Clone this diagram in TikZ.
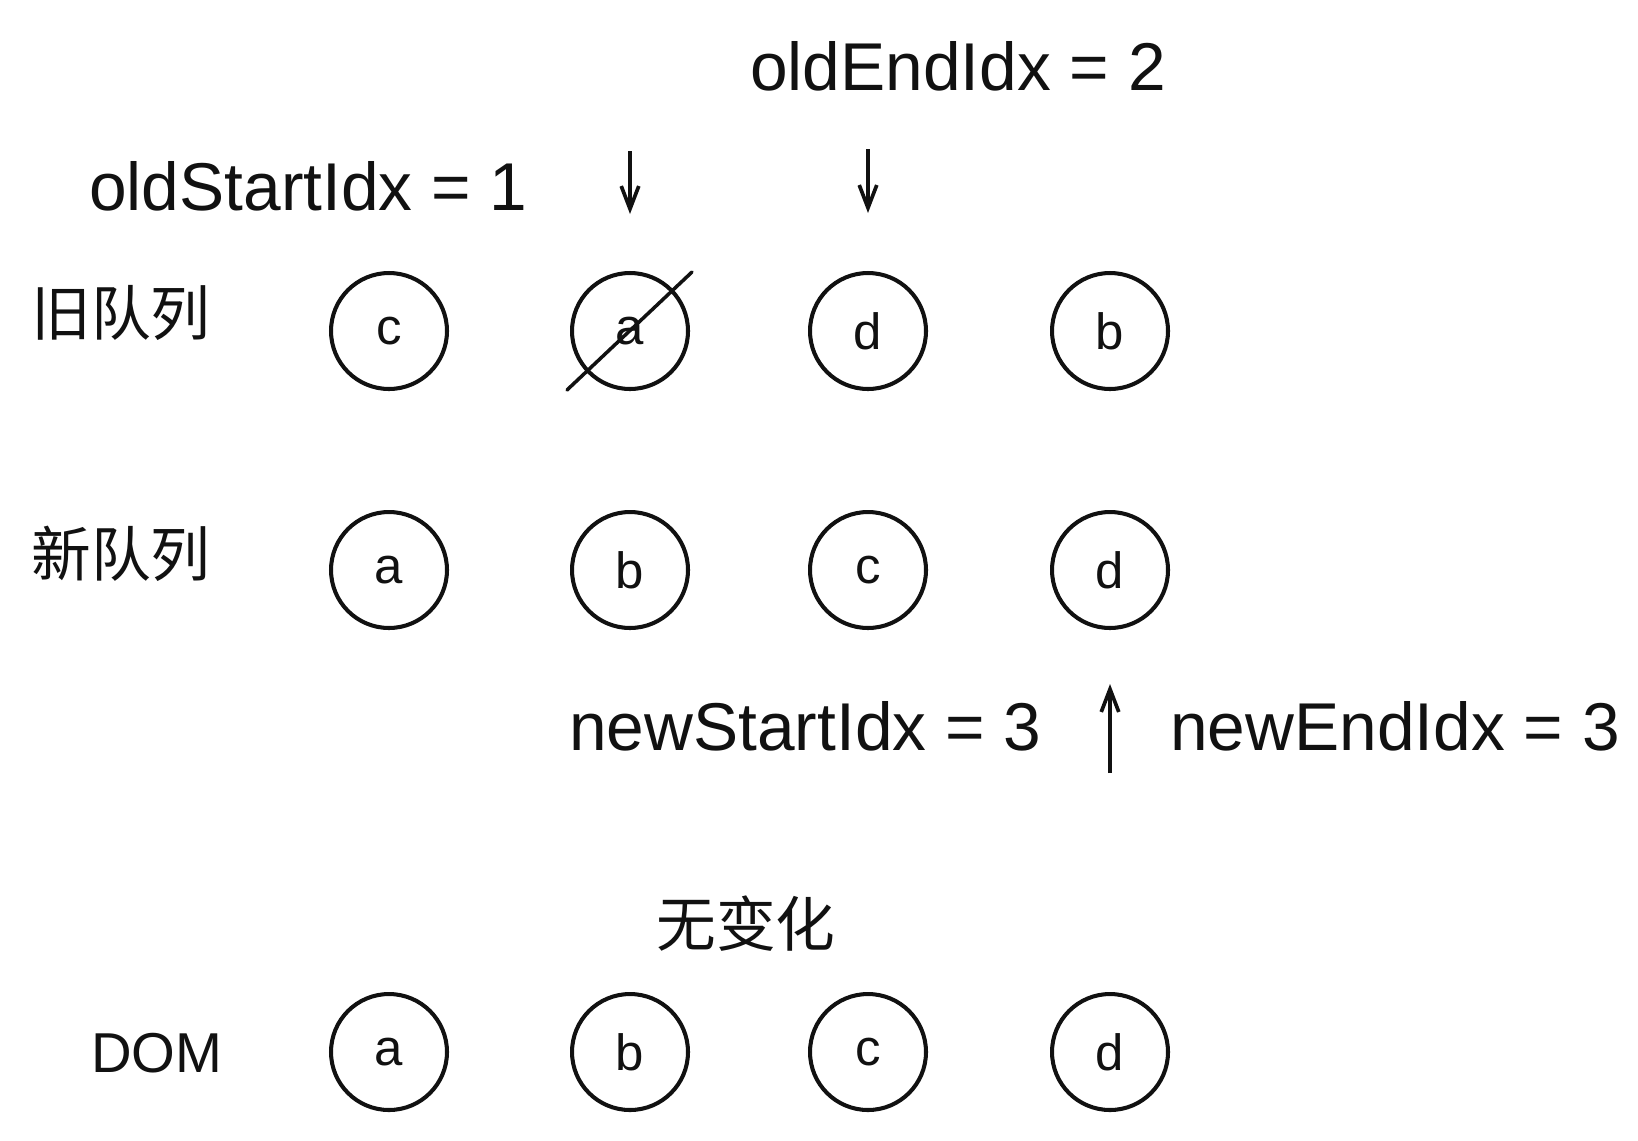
\documentclass[tikz,border=0pt]{standalone}
\usepackage{fontspec}
\setmainfont{Liberation Sans}
\newfontfamily\cjk{Noto Sans CJK SC}
\usetikzlibrary{positioning,arrows.meta,calc}
\definecolor{ink}{HTML}{111111}
\tikzset{
  >=Stealth,
  % --- nodes
  ball/.style  = {circle, draw=ink, line width=2.3pt, minimum size=2.32cm, inner sep=0pt,
                  text=ink, font=\fontsize{29}{34}\selectfont},
  lbl/.style   = {inner sep=0pt, text=ink, font=\fontsize{38.5}{45}\selectfont},
  zh/.style    = {inner sep=0pt, text=ink, font=\cjk\fontsize{34}{40}\selectfont},
  % --- edges
  ptr/.style   = {-{Straight Barb[length=13pt,width=10pt]}, line width=2.1pt, draw=ink},
  strike/.style= {line width=2pt, draw=ink, line cap=round},
}

\begin{document}
\begin{tikzpicture}[x=0.02cm, y=-0.02cm]
  \useasboundingbox (0,0) rectangle (1638,1140);

  % row labels
  \node[zh, anchor=west]  (oldq) at (31,313)  {旧队列};
  \node[zh, anchor=west]  (newq) at (31,554)  {新队列};
  \node[lbl, anchor=west, font=\fontsize{32}{38}\selectfont] (dom) at (91,1053) {DOM};
  \node[zh]               (same) at (746,924) {无变化};

  % queues
  \foreach \x/\t [count=\i] in {389/c, 630/a, 868/d, 1110/b}
    \node[ball] (o\i) at (\x,331) {\t};
  \foreach \x/\t [count=\i] in {389/a, 630/b, 868/c, 1110/d}
    \node[ball] (n\i) at (\x,570) {\t};
  \foreach \x/\t [count=\i] in {389/a, 630/b, 868/c, 1110/d}
    \node[ball] (d\i) at (\x,1052) {\t};

  % a is already patched
  \draw[strike] ($(o2)+(-63,59)$) -- ($(o2)+(62,-59)$);

  % indices
  \node[lbl, anchor=west] (oldend)   at (750,66)  {oldEndIdx = 2};
  \node[lbl, anchor=west] (oldstart) at (89,186)  {oldStartIdx = 1};
  \node[lbl, anchor=west] (newstart) at (569,726) {newStartIdx = 3};
  \node[lbl, anchor=west] (newend)   at (1170,726) {newEndIdx = 3};

  \coordinate (ps) at (630,151);
  \coordinate (pe) at (868,149);
  \coordinate (pn) at (1110,773);
  \draw[ptr, shorten >=1.14cm] (ps) -- (o2.north);
  \draw[ptr, shorten >=1.16cm] (pe) -- (o3.north);
  \draw[ptr, shorten >=1.08cm] (pn) -- (n4.south);
\end{tikzpicture}
\end{document}
